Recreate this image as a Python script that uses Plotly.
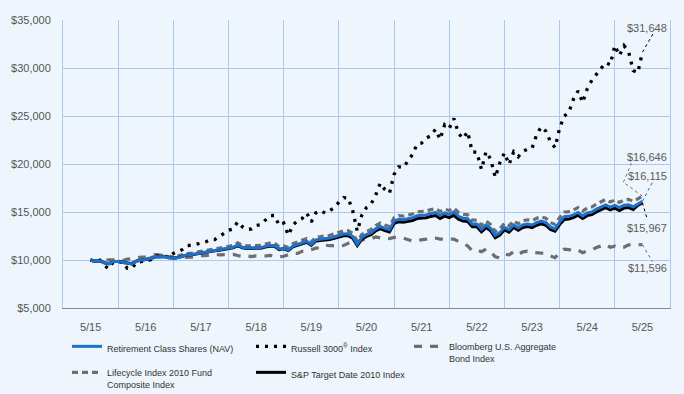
import plotly.graph_objects as go

# Month index of each observation: 0 = 5/31/2015 ... 120 = 5/31/2025
months = list(range(121))
tick_positions = [0, 12, 24, 36, 48, 60, 72, 84, 96, 108, 120]
tick_labels = ["5/15", "5/16", "5/17", "5/18", "5/19", "5/20", "5/21", "5/22", "5/23", "5/24", "5/25"]
grid_positions = [-6, 6, 18, 30, 42, 54, 66, 78, 90, 102, 114, 126]
y_ticks = [5000, 10000, 15000, 20000, 25000, 30000, 35000]
y_tick_labels = ["$5,000", "$10,000", "$15,000", "$20,000", "$25,000", "$30,000", "$35,000"]

retirement = [
    10000, 9880, 9930, 9700, 9600, 9850, 9850, 9760, 9600, 9590, 9900, 9990,
    10080, 10150, 10330, 10340, 10350, 10230, 10200, 10270, 10380, 10530, 10560, 10660,
    10770, 10800, 10920, 10980, 11050, 11140, 11230, 11320, 11560, 11330, 11250, 11240,
    11290, 11290, 11420, 11500, 11500, 11150, 11230, 11050, 11450, 11620, 11780, 11950,
    11620, 12100, 12150, 12200, 12280, 12420, 12550, 12700, 12720, 12450, 11650, 12350,
    12650, 12850, 13250, 13500, 13300, 13150, 14050, 14250, 14200, 14300, 14400, 14600,
    14650, 14700, 14850, 14950, 14650, 14900, 14750, 15000, 14550, 14350, 14300, 13750,
    13750, 13200, 13650, 13300, 12550, 12850, 13400, 13150, 13650, 13350, 13650, 13750,
    13650, 13900, 14050, 13900, 13450, 13250, 13950, 14500, 14550, 14700, 14950, 14600,
    14900, 15000, 15300, 15550, 15750, 15500, 15700, 15450, 15700, 15750, 15550, 15820,
    16115]

russell = [
    10000, 9833, 9990, 9390, 9115, 9855, 9900, 9690, 9140, 9130, 9760, 9820,
    9990, 10010, 10410, 10440, 10460, 10240, 10690, 10890, 11100, 11510, 11520, 11640,
    11770, 11880, 12110, 12130, 12430, 12720, 13100, 13240, 13980, 13460, 13180, 13230,
    13600, 13690, 14140, 14620, 14640, 13610, 13850, 12590, 13640, 14100, 14330, 14900,
    13960, 14930, 15150, 14880, 15140, 15460, 16030, 16490, 16470, 15130, 13000, 14690,
    15480, 15840, 16760, 18000, 17340, 16960, 18930, 19710, 19630, 20250, 20990, 22070,
    22180, 22690, 22960, 23610, 22560, 24090, 23720, 24740, 23210, 22640, 23370, 21250,
    21240, 19430, 21290, 20500, 18610, 20110, 21170, 19950, 21260, 20760, 21320, 21550,
    21630, 23060, 23870, 23420, 22320, 21710, 23740, 24990, 25390, 26750, 27610, 26400,
    27830, 28730, 29300, 29930, 30560, 30330, 32350, 31300, 32320, 31700, 29730, 29510,
    31648]

bloomberg = [
    10000, 9891, 9960, 9945, 10012, 10014, 9987, 9955, 10092, 10163, 10257, 10296,
    10299, 10484, 10551, 10539, 10533, 10452, 10205, 10220, 10240, 10310, 10305, 10385,
    10465, 10455, 10500, 10594, 10544, 10550, 10537, 10585, 10463, 10364, 10430, 10353,
    10427, 10414, 10416, 10483, 10415, 10333, 10394, 10585, 10697, 10691, 10896, 10899,
    11092, 11232, 11257, 11549, 11487, 11522, 11516, 11508, 11730, 11941, 11871, 12082,
    12138, 12214, 12397, 12297, 12290, 12235, 12356, 12372, 12283, 12105, 11954, 12049,
    12088, 12174, 12310, 12287, 12180, 12177, 12213, 12181, 11918, 11785, 11457, 10964,
    11034, 10860, 11126, 10811, 10344, 10210, 10586, 10538, 10862, 10581, 10850, 10916,
    10797, 10759, 10751, 10682, 10411, 10246, 10710, 11120, 11090, 10933, 11034, 10755,
    10937, 11040, 11298, 11463, 11617, 11329, 11449, 11264, 11324, 11573, 11578, 11622,
    11596]

lifecycle = [
    10000, 9890, 9950, 9720, 9630, 9880, 9880, 9790, 9640, 9640, 9950, 10050,
    10140, 10210, 10400, 10430, 10450, 10340, 10320, 10400, 10530, 10680, 10720, 10820,
    10940, 10970, 11100, 11160, 11240, 11330, 11430, 11520, 11780, 11550, 11470, 11460,
    11520, 11520, 11660, 11750, 11750, 11390, 11480, 11300, 11710, 11890, 12060, 12240,
    11900, 12390, 12440, 12500, 12580, 12730, 12860, 13020, 13050, 12770, 11950, 12660,
    12970, 13180, 13590, 13840, 13640, 13480, 14400, 14610, 14570, 14680, 14790, 15000,
    15050, 15100, 15250, 15350, 15050, 15300, 15150, 15400, 14960, 14760, 14700, 14150,
    14150, 13600, 14060, 13700, 12950, 13260, 13820, 13570, 14080, 13770, 14080, 14190,
    14090, 14350, 14500, 14350, 13900, 13700, 14420, 14980, 15040, 15200, 15460, 15100,
    15410, 15520, 15830, 16090, 16300, 16040, 16250, 15990, 16260, 16320, 16120, 16360,
    16646]

sp_target = [
    10000, 9880, 9930, 9700, 9610, 9850, 9840, 9760, 9610, 9600, 9900, 9980,
    10070, 10130, 10310, 10330, 10350, 10230, 10200, 10270, 10380, 10520, 10550, 10640,
    10750, 10780, 10890, 10950, 11010, 11100, 11180, 11270, 11500, 11270, 11200, 11190,
    11230, 11230, 11350, 11430, 11430, 11080, 11160, 10990, 11380, 11540, 11690, 11850,
    11520, 11980, 12020, 12060, 12130, 12260, 12380, 12520, 12540, 12270, 11500, 12170,
    12450, 12640, 13030, 13270, 13070, 12920, 13800, 13990, 13940, 14030, 14120, 14320,
    14360, 14400, 14540, 14630, 14330, 14570, 14420, 14660, 14240, 14050, 14000, 13470,
    13470, 12940, 13380, 13040, 12310, 12600, 13140, 12900, 13380, 13090, 13380, 13480,
    13380, 13620, 13770, 13620, 13190, 13000, 13690, 14230, 14280, 14420, 14670, 14330,
    14620, 14720, 15010, 15250, 15450, 15210, 15400, 15160, 15410, 15460, 15270, 15680,
    15967]

FONT = "Liberation Sans, Arial, sans-serif"
BG = "#EEF5FC"
GRID = "#A9C9F0"
BLUE = "#1B70CC"
GRAY = "#6E6E6E"

W, H = 684, 394
ML, MR, MT, MB = 63, 14, 20, 86
PW, PH = W - ML - MR, H - MT - MB
X_RANGE = [-6, 126]
Y_RANGE = [5000, 35000]
px_x = (X_RANGE[1] - X_RANGE[0]) / PW   # data units per pixel
px_y = (Y_RANGE[1] - Y_RANGE[0]) / PH

fig = go.Figure()

fig.add_trace(go.Scatter(
    x=months, y=bloomberg, mode="lines", name="Bloomberg U.S. Aggregate<br>Bond Index",
    line=dict(color=GRAY, width=3.2, dash="8px,8px"), legend="legend3", legendgroup="b"))
fig.add_trace(go.Scatter(
    x=months, y=lifecycle, mode="lines", name="Lifecycle Index 2010 Fund<br>Composite Index",
    line=dict(color=GRAY, width=3.2, dash="6px,4px"), legend="legend", legendrank=2,
    legendgroup="l"))
fig.add_trace(go.Scatter(
    x=months, y=russell, mode="lines", name="Russell 3000<sup>®</sup> Index",
    line=dict(color="#000000", width=3.3, dash="3px,6px"), legend="legend2", legendrank=1,
    legendgroup="r"))
fig.add_trace(go.Scatter(
    x=months, y=sp_target, mode="lines", name="S&P Target Date 2010 Index",
    line=dict(color="#000000", width=3), legend="legend2", legendrank=2, legendgroup="s"))
fig.add_trace(go.Scatter(
    x=months, y=retirement, mode="lines", name="Retirement Class Shares (NAV)",
    line=dict(color=BLUE, width=3), legend="legend", legendrank=1, legendgroup="n"))

# End-value labels with dotted connectors (segments given as pixel offsets from the end point)
end = months[-1]
labels = [
    (russell, "$31,648", 24, "#000000", [(0, 0, 11, 19)]),
    (lifecycle, "$16,646", 39, GRAY, [(0, 0, -19, 14), (-19, 14, -11, 33)]),
    (retirement, "$16,115", 25, BLUE, [(0, 0, 10, 19)]),
    (sp_target, "$15,967", -25, "#000000", [(0, 0, 5, -17)]),
    (bloomberg, "$11,596", -23, GRAY, [(0, 0, 10, -17)]),
]
for series, text, dy, col, segs in labels:
    fig.add_annotation(x=end, y=series[-1], xref="x", yref="y", text=text, showarrow=False,
                       xanchor="right", yanchor="middle", xshift=27, yshift=dy,
                       font=dict(family=FONT, size=11, color="#5A5A5A"))
    for (a, b, c, d) in segs:
        fig.add_shape(type="line", xref="x", yref="y",
                      x0=end + a * px_x, y0=series[-1] + b * px_y,
                      x1=end + c * px_x, y1=series[-1] + d * px_y,
                      line=dict(color=col, width=1, dash="dot"))

def legend_at(px, py):
    return dict(x=(px - ML) / PW, y=(MT + PH - py) / PH, xanchor="left", yanchor="top",
                bgcolor="rgba(0,0,0,0)", font=dict(family=FONT, size=9, color="#333333"),
                valign="top", traceorder="grouped", tracegroupgap=7)

fig.update_layout(
    width=W, height=H,
    paper_bgcolor=BG, plot_bgcolor=BG,
    margin=dict(l=ML, r=MR, t=MT, b=MB, autoexpand=False),
    showlegend=True,
    legend=legend_at(67, 334),
    legend2=legend_at(251, 334),
    legend3=legend_at(409, 334),
    xaxis=dict(range=X_RANGE, tickmode="array", tickvals=grid_positions,
               ticktext=[""] * len(grid_positions),
               showgrid=True, gridcolor=GRID, gridwidth=1, zeroline=False,
               showline=True, linecolor="#8A8A8A", linewidth=1, ticks=""),
    xaxis2=dict(range=X_RANGE, overlaying="x", side="bottom", anchor="y",
                tickmode="array", tickvals=tick_positions, ticktext=tick_labels,
                showgrid=False, zeroline=False, showline=False,
                ticks="outside", ticklen=9, tickcolor="rgba(0,0,0,0)",
                tickfont=dict(family=FONT, size=11, color="#555555")),
    yaxis=dict(range=Y_RANGE, tickmode="array", tickvals=y_ticks, ticktext=y_tick_labels,
               showgrid=True, gridcolor=GRID, gridwidth=1, zeroline=False,
               showline=True, linecolor=GRID, mirror=True,
               ticks="outside", ticklen=9, tickcolor="rgba(0,0,0,0)",
               tickfont=dict(family=FONT, size=11, color="#555555")),
)

fig.add_trace(go.Scatter(x=[months[0]], y=[retirement[0]], xaxis="x2", mode="markers",
                         marker=dict(opacity=0), showlegend=False, hoverinfo="skip"))

fig.write_html("out.html", config={"displayModeBar": False},
               post_script="document.body.style.margin='0';")
